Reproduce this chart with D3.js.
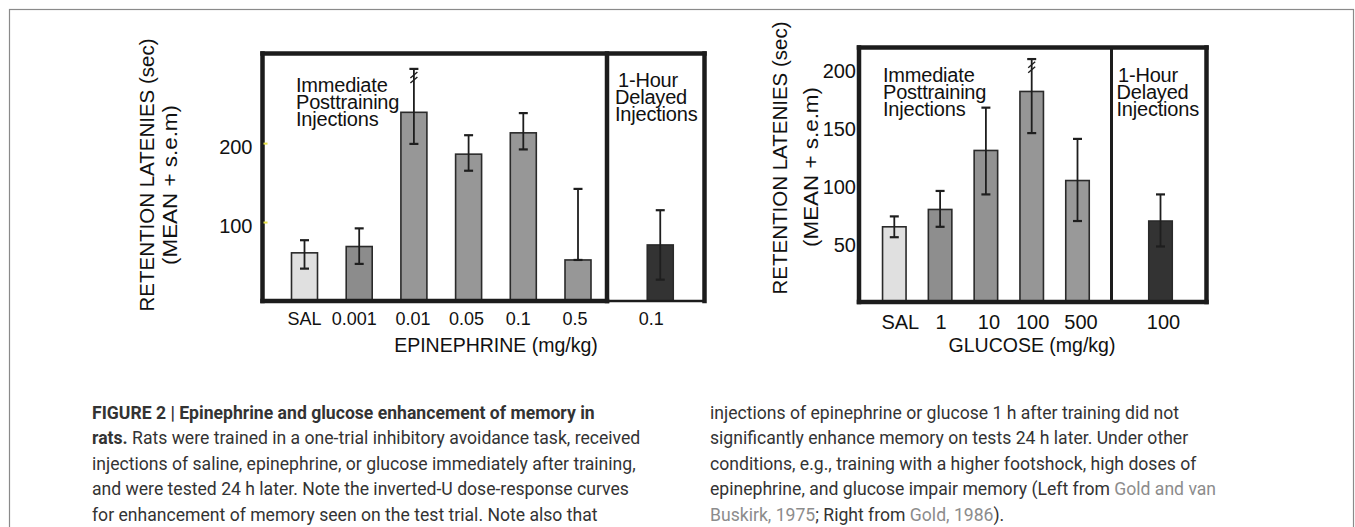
<!DOCTYPE html>
<html>
<head>
<meta charset="utf-8">
<script src="https://cdn.jsdelivr.net/npm/d3@7"></script>
<style>
body { margin: 0; background: #fff; }
svg { display: block; }
</style>
</head>
<body>
<svg id="fig" width="1355" height="527"></svg>
<script>

// left panel: epinephrine
var epiDoses = ["SAL", "0.001", "0.01", "0.05", "0.1", "0.5"];
var epiMean = [61, 69, 239, 186, 213, 52];
var epiLow = [41, 47, 199, 165, 192, 52];
var epiHigh = [77, 92, 294, 210, 238, 142];
var epiDelayedDose = "0.1";
var epiDelayedMean = 71, epiDelayedLow = 27, epiDelayedHigh = 115;
var epiTicks = [100, 200];
var epiBreak = {dose: "0.01", value: 283};

// right panel: glucose
var gluDoses = ["SAL", "1", "10", "100", "500"];
var gluMean = [65, 80, 131, 182, 105];
var gluLow = [56, 65, 93, 146, 70];
var gluHigh = [74, 96, 168, 210, 141];
var gluDelayedDose = "100";
var gluDelayedMean = 70, gluDelayedLow = 48, gluDelayedHigh = 93;
var gluTicks = [50, 100, 150, 200];
var gluBreak = {dose: "100", value: 203};

var captionLeft = [
    [{t: "FIGURE 2 | Epinephrine and glucose enhancement of memory in", b: true}],
    [{t: "rats.", b: true}, {t: " Rats were trained in a one-trial inhibitory avoidance task, received"}],
    [{t: "injections of saline, epinephrine, or glucose immediately after training,"}],
    [{t: "and were tested 24 h later. Note the inverted-U dose-response curves"}],
    [{t: "for enhancement of memory seen on the test trial. Note also that"}]
];
var captionRight = [
    [{t: "injections of epinephrine or glucose 1 h after training did not"}],
    [{t: "significantly enhance memory on tests 24 h later. Under other"}],
    [{t: "conditions, e.g., training with a higher footshock, high doses of"}],
    [{t: "epinephrine, and glucose impair memory (Left from "}, {t: "Gold and van", link: true}],
    [{t: "Buskirk, 1975", link: true}, {t: "; Right from "}, {t: "Gold, 1986", link: true}, {t: ")."}]
];

var FONT = "'Liberation Sans', Arial, Helvetica, sans-serif";
var svg = d3.select("#fig");

// thin frame round the whole figure
svg.append("rect")
    .attr("x", 9.5).attr("y", 9.5)
    .attr("width", 1344).attr("height", 600)
    .attr("fill", "none").attr("stroke", "#8a8a8a").attr("stroke-width", 1.2);

function drawPanel(cfg) {
    var g = svg.append("g");

    var y = d3.scaleLinear().domain([0, cfg.yMax]).range([cfg.bottom, cfg.top]);
    var x = d3.scalePoint().domain(cfg.doses).range(cfg.xRange);
    var xd = d3.scalePoint().domain([cfg.delayedDose]).range([cfg.xDiv + cfg.delayedShift, cfg.x1]).padding(0.5);

    var bars = cfg.doses.map(function (d, i) {
        return {dose: d, mean: cfg.mean[i], lo: cfg.low[i], hi: cfg.high[i],
                cx: x(d), fill: i === 0 ? "#e0e0e0" : cfg.immFill[i - 1]};
    });
    bars.push({dose: cfg.delayedDose, mean: cfg.delayedMean, lo: cfg.delayedLow, hi: cfg.delayedHigh,
               cx: xd(cfg.delayedDose), fill: "#333", delayed: true});

    g.selectAll("rect.bar")
        .data(bars).enter().append("rect")
        .attr("class", "bar")
        .attr("x", function (d) { return d.cx - cfg.barW / 2; })
        .attr("y", function (d) { return y(d.mean); })
        .attr("width", cfg.barW)
        .attr("height", function (d) { return y(0) - y(d.mean); })
        .attr("fill", function (d) { return d.fill; })
        .attr("stroke", "#2a2a2a")
        .attr("stroke-width", 1.6);

    // error bars
    var err = g.append("g").attr("stroke", "#1e1e1e").attr("stroke-width", 1.8).attr("fill", "none");
    bars.forEach(function (d) {
        err.append("line").attr("x1", d.cx).attr("x2", d.cx).attr("y1", y(d.lo)).attr("y2", y(d.hi));
        [d.lo, d.hi].forEach(function (v) {
            err.append("line")
                .attr("x1", d.cx - 4.5).attr("x2", d.cx + 4.5)
                .attr("y1", y(v)).attr("y2", y(v))
                .attr("stroke-width", 2.2);
        });
    });

    // break marks on the truncated error bar
    var bx = x(cfg.brk.dose), by = y(cfg.brk.value);
    [-2.5, 2.5].forEach(function (off) {
        err.append("line")
            .attr("x1", bx - 3.5).attr("x2", bx + 3.5)
            .attr("y1", by + off + 3).attr("y2", by + off - 3)
            .attr("stroke-width", 1.4);
    });

    // frame of the panel
    var frame = g.append("g").attr("stroke", "#1c1c1c").attr("fill", "none")
        .attr("stroke-linecap", "square").attr("stroke-linejoin", "round");
    cfg.frame.forEach(function (s) {
        frame.append("line")
            .attr("x1", s[0]).attr("y1", s[1]).attr("x2", s[2]).attr("y2", s[3])
            .attr("stroke-width", s[4]);
    });

    // y axis
    var axis = g.append("g")
        .attr("transform", "translate(" + cfg.x0 + ",0)")
        .call(d3.axisLeft(y).tickValues(cfg.ticks).tickSize(cfg.tickLen).tickPadding(cfg.tickPad).tickFormat(d3.format("d")));
    axis.select(".domain").remove();
    axis.selectAll(".tick line")
        .attr("transform", "translate(1,0)")
        .attr("stroke", cfg.tickColor).attr("stroke-width", 2);
    axis.selectAll(".tick text")
        .attr("font-family", FONT).attr("font-size", 20).attr("fill", "#111")
        .attr("dy", cfg.tickDy);

    // x tick labels
    g.selectAll("text.xlab")
        .data(bars).enter().append("text")
        .attr("class", "xlab")
        .attr("x", function (d, i) { return d.cx + cfg.labelDx[i]; })
        .attr("y", cfg.labelY)
        .attr("text-anchor", "middle")
        .attr("font-family", FONT).attr("font-size", cfg.labelSize).attr("fill", "#111")
        .text(function (d) { return d.dose; });

    g.append("text")
        .attr("x", cfg.titleX).attr("y", 352)
        .attr("text-anchor", "middle")
        .attr("font-family", FONT).attr("font-size", 19.5).attr("fill", "#111")
        .text(cfg.xTitle);

    // y title, two rotated lines
    [["RETENTION LATENIES (sec)", cfg.yTitle1, null], ["(MEAN + s.e.m)", cfg.yTitle2, 160]].forEach(function (t) {
        var lab = g.append("text")
            .attr("transform", "translate(" + t[1][0] + "," + t[1][1] + ") rotate(-90)")
            .attr("text-anchor", "middle")
            .attr("font-family", FONT).attr("font-size", 20.5).attr("fill", "#111")
            .text(t[0]);
        if (t[2]) lab.attr("textLength", t[2]).attr("lengthAdjust", "spacingAndGlyphs");
    });

    // in-panel notes (tight leading, as in the original)
    [[["Immediate", "Posttraining", "Injections"], cfg.noteImm],
     [["1-Hour", "Delayed", "Injections"], cfg.noteDel]].forEach(function (n) {
        n[0].forEach(function (line, i) {
            g.append("text")
                .attr("x", n[1][0] + (i === 0 ? n[1][2] : 0))
                .attr("y", n[1][1] + i * 17)
                .attr("font-family", FONT).attr("font-size", 20).attr("fill", "#111")
                .attr("letter-spacing", -0.2)
                .text(line);
        });
    });
}

drawPanel({
    doses: epiDoses, mean: epiMean, low: epiLow, high: epiHigh,
    delayedDose: epiDelayedDose, delayedMean: epiDelayedMean,
    delayedLow: epiDelayedLow, delayedHigh: epiDelayedHigh,
    ticks: epiTicks, brk: epiBreak,
    yMax: 313.5, top: 53.5, bottom: 301,
    x0: 262.5, x1: 704.5, xDiv: 607, delayedShift: 9,
    xRange: [304.5, 578], barW: 26,
    immFill: ["#8c8c8c", "#979797", "#979797", "#979797", "#979797"],
    frame: [
        [262.5, 53.5, 704.5, 53.5, 4.5],
        [262.5, 53.5, 262.5, 301, 4.5],
        [704.5, 53.5, 704.5, 301, 4.5],
        [607, 53.5, 607, 301, 4.5],
        [262.5, 301, 607, 301, 4.5],
        [607, 301, 704.5, 301, 2.5]
    ],
    tickLen: -4, tickPad: 10, tickColor: "#e8e24a", tickDy: "0.5em",
    labelY: 325, labelSize: 18, labelDx: [0, -5, -1, -2, -5, -3, -9],
    titleX: 496, xTitle: "EPINEPHRINE (mg/kg)",
    yTitle1: [153.5, 175], yTitle2: [177, 185],
    noteImm: [296, 92.3, 0], noteDel: [615, 86.7, 3]
});

drawPanel({
    doses: gluDoses, mean: gluMean, low: gluLow, high: gluHigh,
    delayedDose: gluDelayedDose, delayedMean: gluDelayedMean,
    delayedLow: gluDelayedLow, delayedHigh: gluDelayedHigh,
    ticks: gluTicks, brk: gluBreak,
    yMax: 220, top: 47.5, bottom: 302,
    x0: 859, x1: 1206.5, xDiv: 1111.5, delayedShift: 3,
    xRange: [894.3, 1077.5], barW: 23.5,
    immFill: ["#8e8e8e", "#929292", "#969696", "#999999"],
    frame: [
        [859, 47.5, 1206.5, 47.5, 4.5],
        [859, 47.5, 859, 302, 4.5],
        [1206.5, 47.5, 1206.5, 302, 4.5],
        [859, 302, 1206.5, 302, 4.5],
        [1111.5, 47.5, 1111.5, 302, 3]
    ],
    tickLen: 0, tickPad: 3, tickColor: "none", tickDy: "0.35em",
    labelY: 329, labelSize: 20, labelDx: [6, 1, 3, 1, 3.5, 3],
    titleX: 1032, xTitle: "GLUCOSE (mg/kg)",
    yTitle1: [787, 158], yTitle2: [818, 167],
    noteImm: [883, 81.7, 0], noteDel: [1116.5, 81.7, 1.5]
});

// caption, two columns
function drawCaption(lines, x0) {
    lines.forEach(function (parts, i) {
        var t = svg.append("text")
            .attr("x", x0).attr("y", 418.5 + i * 25.5)
            .attr("font-family", "Roboto, 'Open Sans', sans-serif")
            .attr("font-size", 17.6)
            .attr("fill", "#333");
        parts.forEach(function (p) {
            t.append("tspan")
                .attr("font-weight", p.b ? 700 : 400)
                .attr("fill", p.link ? "#8c8c8c" : "#333")
                .text(p.t);
        });
    });
}
drawCaption(captionLeft, 92);
drawCaption(captionRight, 710);

</script>
</body>
</html>
